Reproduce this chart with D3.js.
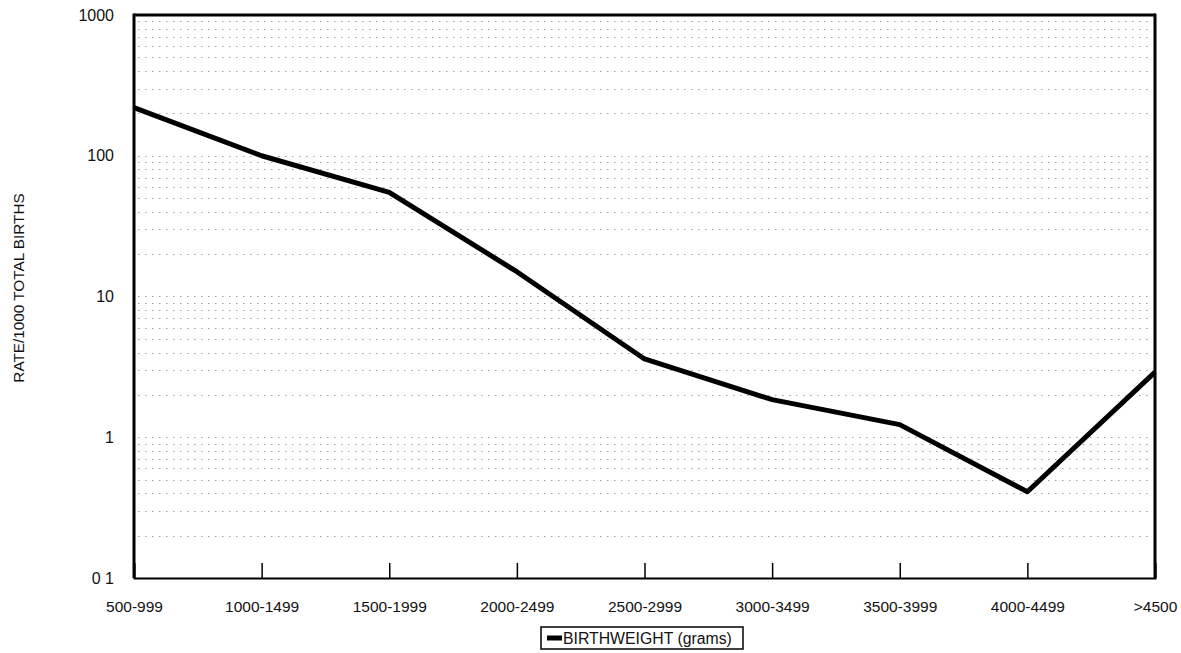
<!DOCTYPE html>
<html>
<head>
<meta charset="utf-8">
<script src="https://cdn.jsdelivr.net/npm/d3@7"></script>
<style>
body { margin: 0; background: #fff; }
text { font-family: Arial, "Liberation Sans", sans-serif; fill: #111; }
</style>
</head>
<body>
<div id="chart"></div>
<script>
var categories = ["500-999", "1000-1499", "1500-1999", "2000-2499", "2500-2999",
                  "3000-3499", "3500-3999", "4000-4499", ">4500"];
var rates = [220, 100, 55, 15, 3.6, 1.85, 1.23, 0.41, 2.9];
var yTicks = [1000, 100, 10, 1, 0.1];
var yTickLabels = ["1000", "100", "10", "1", "0 1"];

var W = 1181, H = 653;
var pLeft = 134, pRight = 1155, pTop = 15, pBottom = 578;

var svg = d3.select("#chart").append("svg")
            .attr("width", W)
            .attr("height", H);

var x = d3.scalePoint().domain(categories).range([pLeft, pRight]);
var y = d3.scaleLog().domain([0.1, 1000]).range([pBottom, pTop]);

// dotted minor gridlines (2..9 x each decade, plus decades)
var gridVals = [];
for (var k = -1; k <= 2; k++) {
  for (var m = 1; m <= 9; m++) {
    var v = m * Math.pow(10, k);
    if (v > 0.1 + 1e-9) gridVals.push(v);
  }
}
svg.append("g").selectAll("line")
   .data(gridVals)
   .enter()
   .append("line")
   .attr("x1", pLeft + 4)
   .attr("x2", pRight - 4)
   .attr("y1", function(d){ return Math.round(y(d)) + 0.5; })
   .attr("y2", function(d){ return Math.round(y(d)) + 0.5; })
   .attr("stroke", "#a0a0a0")
   .attr("stroke-width", 1)
   .attr("stroke-dasharray", "1.5,5.5");

// frame
svg.append("line").attr("x1", pLeft).attr("x2", pRight).attr("y1", pTop).attr("y2", pTop)
   .attr("stroke", "#000").attr("stroke-width", 3);
svg.append("line").attr("x1", pLeft).attr("x2", pLeft).attr("y1", pTop - 1.5).attr("y2", pBottom)
   .attr("stroke", "#000").attr("stroke-width", 3);
svg.append("line").attr("x1", pRight).attr("x2", pRight).attr("y1", pTop - 1.5).attr("y2", pBottom)
   .attr("stroke", "#000").attr("stroke-width", 3);

// x axis with upward ticks
var xAxis = d3.axisBottom(x).tickSize(-15).tickPadding(23);
var gx = svg.append("g")
   .attr("transform", "translate(0," + pBottom + ")")
   .call(xAxis);
gx.select(".domain").attr("stroke", "#000").attr("stroke-width", 2);
gx.selectAll(".tick line").attr("stroke", "#000").attr("stroke-width", 1.5);
gx.selectAll(".tick text")
  .style("font-family", "Arial, 'Liberation Sans', sans-serif")
  .style("font-size", "15.5px")
  .attr("fill", "#111");

// y labels
svg.append("g").selectAll("text")
   .data(yTicks)
   .enter()
   .append("text")
   .attr("x", 114)
   .attr("y", function(d){ return y(d) + 5.5; })
   .attr("text-anchor", "end")
   .style("font-size", "16px")
   .text(function(d, i){ return yTickLabels[i]; });

// y axis title
svg.append("text")
   .attr("transform", "translate(24,288) rotate(-90)")
   .attr("text-anchor", "middle")
   .style("font-size", "15.3px")
   .text("RATE/1000 TOTAL BIRTHS");

// data line
var line = d3.line()
   .x(function(d, i){ return x(categories[i]); })
   .y(function(d){ return y(d); });

svg.append("path")
   .datum(rates)
   .attr("d", line)
   .attr("fill", "none")
   .attr("stroke", "#000")
   .attr("stroke-width", 5)
   .attr("stroke-linejoin", "round");

// legend
var lg = svg.append("g").attr("transform", "translate(541,627)");
lg.append("rect")
  .attr("x", 0).attr("y", 0)
  .attr("width", 202).attr("height", 22)
  .attr("fill", "#fff")
  .attr("stroke", "#000")
  .attr("stroke-width", 1.5);
lg.append("line")
  .attr("x1", 6).attr("x2", 21).attr("y1", 11).attr("y2", 11)
  .attr("stroke", "#000").attr("stroke-width", 5);
lg.append("text")
  .attr("x", 22).attr("y", 16.5)
  .style("font-size", "15.8px")
  .text("BIRTHWEIGHT (grams)");
</script>
</body>
</html>
